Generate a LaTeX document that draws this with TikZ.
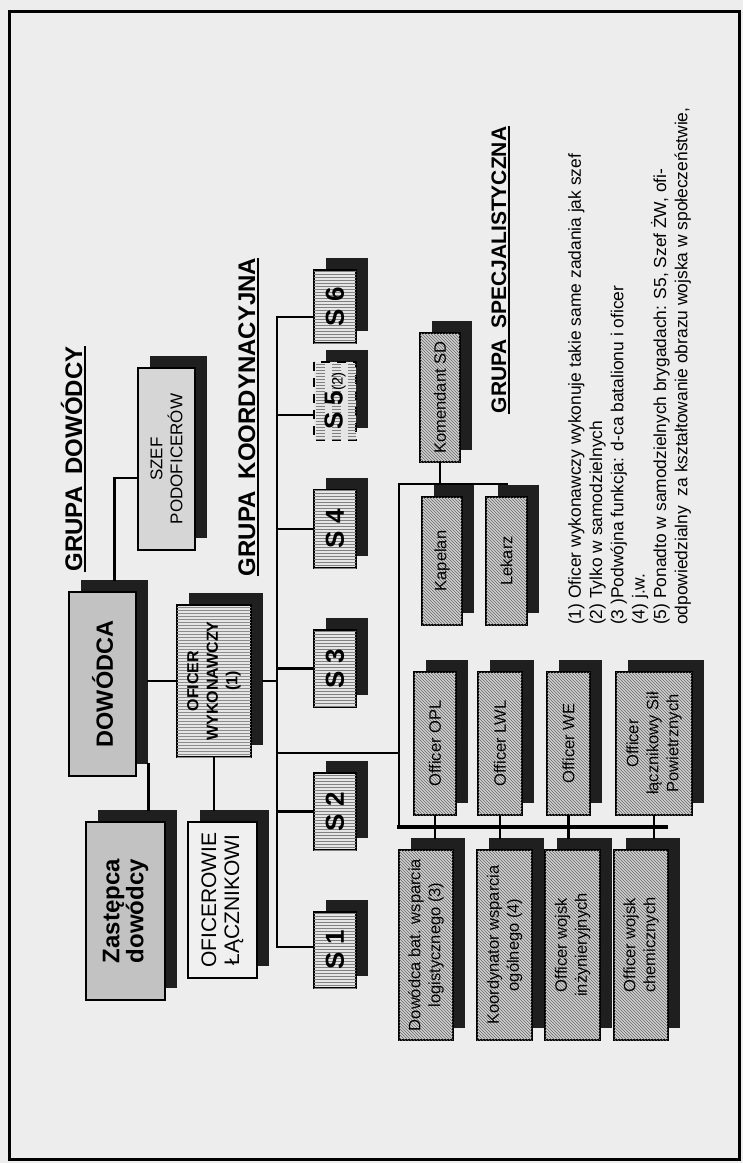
\documentclass[tikz,border=0pt]{standalone}
\usepackage{fontspec}
\setmainfont{Liberation Sans}
\usetikzlibrary{patterns}
\newcommand\ttlfont{\fontsize{24}{28}\selectfont\bfseries}
\newcommand\specttlfont{\fontsize{21}{25}\selectfont\bfseries}
\newcommand\dowfont{\fontsize{23.5}{26}\selectfont\bfseries}
\newcommand\zasfont{\fontsize{24}{24}\selectfont\bfseries}
\newcommand\szeffont{\fontsize{17}{20}\selectfont}
\newcommand\ofwfont{\fontsize{16}{19.5}\selectfont\bfseries}
\newcommand\oflfont{\fontsize{21}{23}\selectfont}
\newcommand\sfont{\fontsize{26}{28}\selectfont\bfseries}
\newcommand\offont{\fontsize{16.5}{20}\selectfont}
\newcommand\notefont{\fontsize{17.4}{21.3}\selectfont}
\newcommand\obox[7]{%
  \node[shadowbox,minimum width=#5pt,minimum height=#4pt] (#1s) at ({#2+12},{#3-12}) {};
  \node[#6,minimum width=#5pt,minimum height=#4pt] (#1) at (#2,#3) {#7};}
\tikzset{
  boxbase/.style={rotate=90, draw=black, line width=2.4pt, inner sep=1pt, align=center, text=black},
  shadowbox/.style={rotate=90, fill=black!88, draw=none, inner sep=0pt},
  dotbox/.style={boxbase, fill=black!24},
  dotlight/.style={boxbase, fill=black!16},
  linebox/.style={boxbase, fill=black!10, postaction={pattern=horizontal lines, pattern color=black!45}},
  whitebox/.style={boxbase, fill=black!6},
  sbox/.style={boxbase, fill=black!10, postaction={pattern=horizontal lines, pattern color=black!50}, font=\sfont},
  hatchbox/.style={boxbase, fill=black!18, postaction={pattern=north west lines, pattern color=black!60}, font=\offont},
  ttl/.style={rotate=90, inner xsep=0pt, inner ysep=2.5pt, anchor=south},
  uline/.style={line width=1.8pt},
  conn/.style={line width=2.6pt, line cap=rect},
  busline/.style={line width=3.4pt, line cap=rect}
}
\begin{document}
\begin{tikzpicture}[x=1pt,y=-1pt]
\fill[black!7] (0,0) rectangle (743,1163);
\useasboundingbox (0,0) rectangle (743,1163);
\draw[line width=3pt] (9,11) rectangle (739,1159);

% titles
\node[ttl, font=\ttlfont] (gd) at (85,459) {GRUPA\hspace{0.5em}DOWÓDCY};
\draw[uline] (gd.south west) -- (gd.south east);
\node[ttl, font=\ttlfont] (gk) at (258,417) {GRUPA\hspace{0.5em}KOORDYNACYJNA};
\draw[uline] (gk.south west) -- (gk.south east);
\node[ttl, font=\specttlfont] (gs) at (509,270) {GRUPA\hspace{0.5em}SPECJALISTYCZNA};
\draw[uline] (gs.south west) -- (gs.south east);

% command group
\obox{dow}{102.5}{684}{67}{184}{dotbox,font=\dowfont}{DOWÓDCA}
\obox{zas}{125.5}{911}{79}{178}{dotbox,font=\zasfont}{Zastępca\\dowódcy}
\obox{szef}{166.5}{459}{57}{182}{dotlight,font=\szeffont}{SZEF\\PODOFICERÓW}
\obox{ofw}{214}{681}{74}{152}{linebox,font=\ofwfont}{OFICER\\WYKONAWCZY\\(1)}
\obox{ofl}{222.5}{900}{69}{156}{whitebox,font=\oflfont}{OFICEROWIE\\ŁĄCZNIKOWI}

% coordination group
\obox{s6}{335}{306.5}{42}{73}{sbox}{S 6}
\obox{s5}{335}{401}{42}{78}{sbox,dash pattern=on 9pt off 7pt}{S 5{\fontsize{15}{15}\selectfont\mdseries(2)}}
\obox{s4}{335}{529}{42}{78}{sbox}{S 4}
\obox{s3}{335}{668.5}{42}{77}{sbox}{S 3}
\obox{s2}{335}{811.5}{42}{77}{sbox}{S 2}
\obox{s1}{335}{950}{42}{76}{sbox}{S 1}

% specialist group
\obox{kom}{440}{397.5}{40}{129}{hatchbox}{Komendant SD}
\obox{kap}{442}{561}{40}{128}{hatchbox}{Kapelan}
\obox{lek}{506.5}{561}{41}{128}{hatchbox}{Lekarz}
\obox{opl}{435}{743.5}{42}{143}{hatchbox}{Officer OPL}
\obox{lwl}{500}{743.5}{44}{143}{hatchbox}{Officer LWL}
\obox{we}{568.5}{743.5}{43}{143}{hatchbox}{Officer WE}
\obox{lac}{654}{743.5}{76}{143}{hatchbox}{Officer\\łącznikowy Sił\\Powietrznych}
\obox{db}{426}{945}{54}{190}{hatchbox}{Dowódca bat. wsparcia\\logistycznego (3)}
\obox{koo}{504.5}{945}{55}{190}{hatchbox}{Koordynator wsparcia\\ogólnego (4)}
\obox{inz}{572.5}{945}{55}{190}{hatchbox}{Officer wojsk\\inżynieryjnych}
\obox{che}{641}{945}{54}{190}{hatchbox}{Officer wojsk\\chemicznych}

% connectors: command group
\coordinate (c1) at (114.5,478);
\draw[conn] (dows.east) -- (c1) -- (c1 -| szef.north);
\draw[conn] (dows.south west) -- (dows.south west |- zass.east);
\draw[conn] (ofw.north -| dows.south) -- (ofw.north);
\draw[conn] (ofw.west) -- (ofw.west |- ofls.east);

% coordination bus
\coordinate (bt) at (277,317);
\coordinate (b5) at (277,415);
\coordinate (bb) at (277,947);
\draw[conn] (bt) -- (bb);
\draw[conn] (ofw.south -| ofws.south) -- (ofw.south -| bt);
\draw[conn] (bt) -- (bt -| s6.north);
\draw[conn] (b5) -- (b5 -| s5.north);
\draw[conn] (s4.north -| bt) -- (s4.north);
\draw[conn] (s3.north -| bt) -- (s3.north);
\draw[conn] (s2.north -| bt) -- (s2.north);
\draw[conn] (bb) -- (bb -| s1.north);

% specialist lines
\coordinate (sp1) at (277,753);
\coordinate (st) at (399,484);
\coordinate (sb) at (399,827);
\draw[conn] (sp1) -- (sp1 -| st);
\draw[conn] (st) -- (sb);
\draw[conn] (st) -- (st -| lek.east);
\draw[conn] (kom.west) -- (kom.west |- st);
\draw[busline] (sb) -- (sb -| lacs.west);
\draw[conn] (opl.west) -- (opl.west |- dbs.east);
\draw[conn] (lwl.west) -- (lwl.west |- koos.east);
\draw[conn] (we.west) -- (we.west |- inzs.east);
\draw[conn] (lac.west) -- (lac.west |- ches.east);

% notes
\node[rotate=90, anchor=north west, align=left, inner sep=0pt, font=\notefont] (notes) at (568,625)
{(1) Oficer wykonawczy wykonuje takie same zadania jak szef\\
(2) Tylko w samodzielnych\\
(3 )Podwójna funkcja: d-ca batalionu i oficer\\
(4) j.w.\\
(5) Ponadto w samodzielnych brygadach: S5, Szef ŻW, ofi-\\
odpowiedzialny\ \ za kształtowanie obrazu wojska w społeczeństwie,};
\end{tikzpicture}
\end{document}
